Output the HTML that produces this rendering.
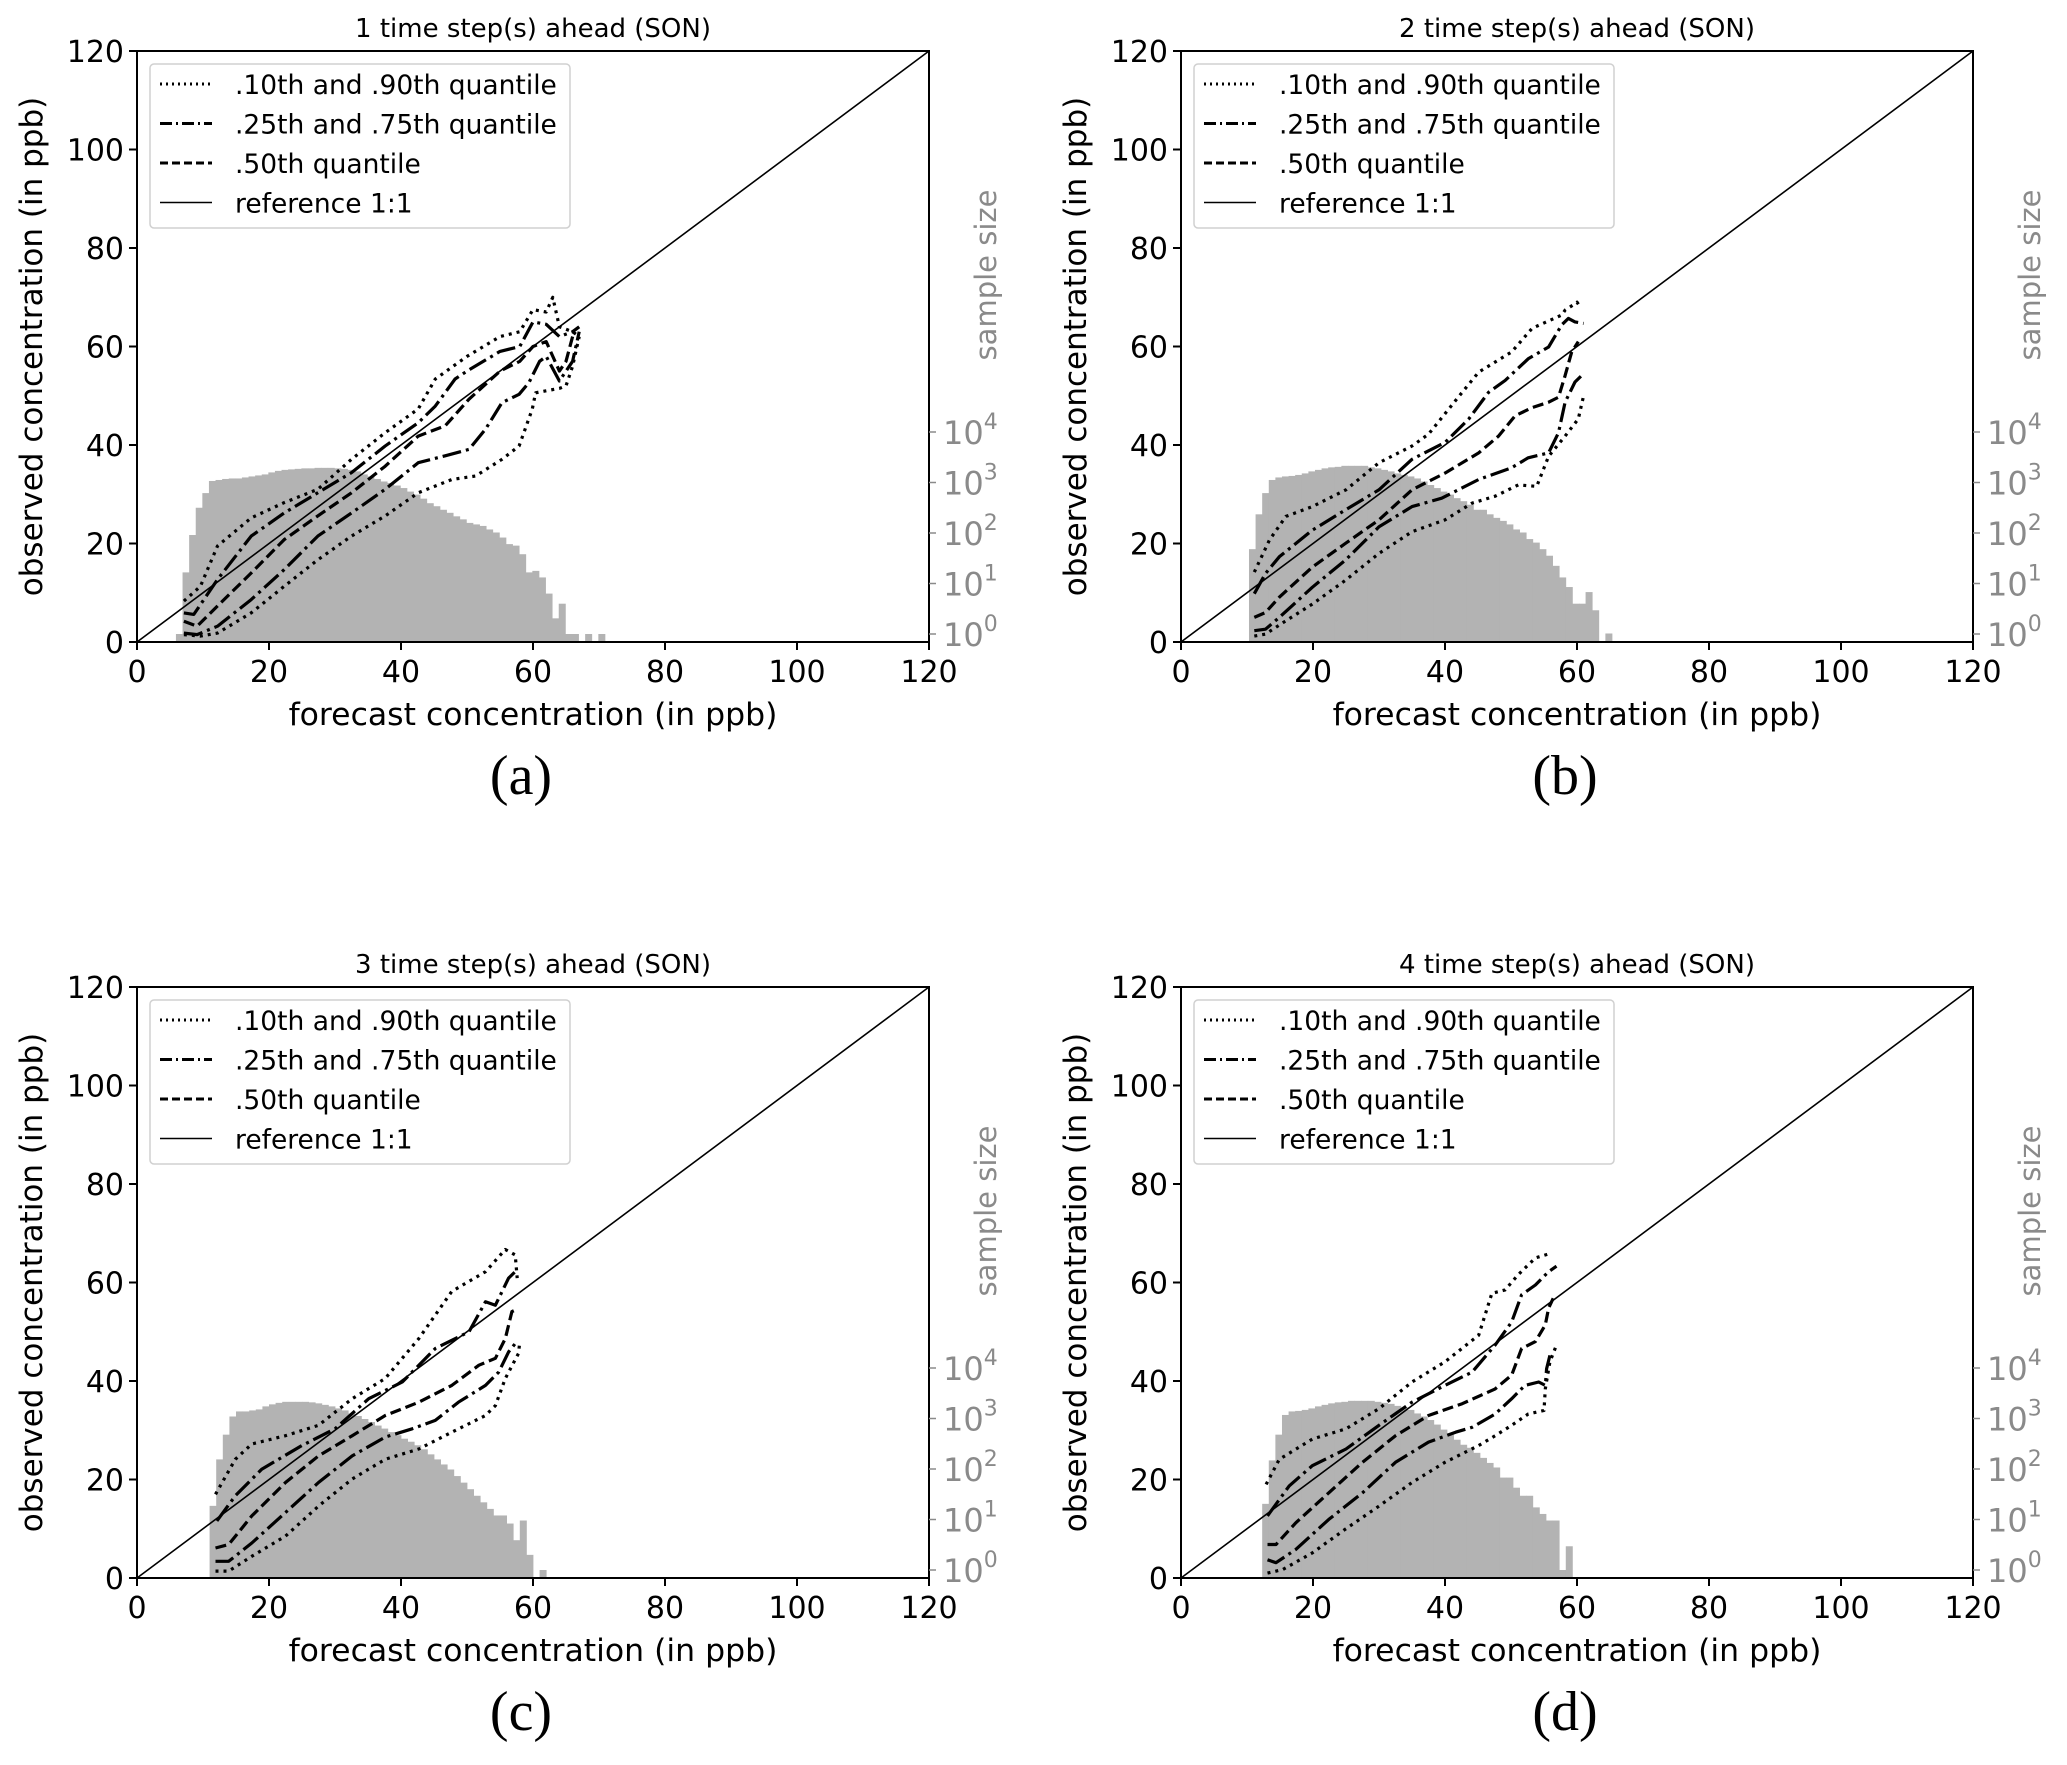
<!DOCTYPE html>
<html><head><meta charset="utf-8"><title>Quantile reliability plots</title>
<style>
html,body{margin:0;padding:0;background:#fff;}
svg{display:block;font-family:"DejaVu Sans","Liberation Sans",sans-serif;}
</style></head>
<body>
<svg id="fig" width="2067" height="1765" viewBox="0 0 2067 1765" xmlns="http://www.w3.org/2000/svg"></svg>
<script>
// ---------- data ----------
const panelTitles = ["1 time step(s) ahead (SON)","2 time step(s) ahead (SON)","3 time step(s) ahead (SON)","4 time step(s) ahead (SON)"];
const panelLetters = ["(a)","(b)","(c)","(d)"];
const xTicks = [0,20,40,60,80,100,120];
const yTicks = [0,20,40,60,80,100,120];
const logTicks = [0,1,2,3,4];
// histogram: first bin start (ppb) and log10(sample count) per 1-ppb bin (-1 = empty)
const histStart = [5.9, 10.3, 11.0, 12.3];
const histA = [0.0,1.22,1.96,2.50,2.79,3.03,3.05,3.07,3.08,3.08,3.10,3.12,3.14,3.16,3.20,3.23,3.25,3.26,3.27,3.28,3.28,3.29,3.29,3.29,3.28,3.27,3.25,3.22,3.16,3.12,3.07,3.02,2.99,2.94,2.89,2.82,2.76,2.68,2.59,2.53,2.46,2.40,2.33,2.27,2.20,2.17,2.14,2.07,2.01,1.91,1.78,1.75,1.58,1.22,1.25,1.12,0.80,0.31,0.60,0.0,0.0,-1,0.0,-1,0.0];
const histB = [1.68,2.37,2.79,3.05,3.10,3.12,3.13,3.15,3.18,3.22,3.25,3.28,3.30,3.31,3.33,3.33,3.33,3.33,3.30,3.28,3.25,3.22,3.18,3.15,3.12,3.08,3.02,2.95,2.89,2.82,2.76,2.69,2.63,2.56,2.46,2.46,2.37,2.30,2.24,2.17,2.07,2.01,1.88,1.81,1.68,1.55,1.35,1.12,0.93,0.60,0.60,0.83,0.47,-1,0.01];
const histC = [1.27,2.19,2.68,3.04,3.14,3.14,3.16,3.18,3.24,3.28,3.31,3.33,3.33,3.33,3.33,3.32,3.30,3.27,3.24,3.20,3.16,3.10,3.05,2.99,2.93,2.86,2.80,2.73,2.67,2.60,2.54,2.47,2.39,2.29,2.19,2.09,1.99,1.86,1.73,1.60,1.47,1.34,1.21,1.08,1.08,0.92,0.59,0.98,0.30,-1,0.0];
const histD = [1.31,2.17,2.68,3.07,3.14,3.15,3.17,3.20,3.24,3.27,3.30,3.32,3.33,3.35,3.35,3.35,3.35,3.33,3.31,3.29,3.25,3.22,3.17,3.10,3.04,2.97,2.88,2.78,2.68,2.58,2.48,2.42,2.32,2.22,2.12,2.03,1.83,1.83,1.63,1.47,1.47,1.24,1.11,0.98,0.98,0.0,0.47];
// quantile curves: x (forecast) and y (observed) per panel
const aQ10x=[7.1,9.6,12.2,17.3,22.3,27.4,32.5,37.6,42.6,47.7,51.3,55.3,57.9,59.9,60.4,62,64,65,66,67];
const aQ10y=[1.5,1.2,1.8,5.9,11.3,16.7,21.5,25.6,30.3,33,33.7,37.1,39.8,47.3,50.6,51,51.5,52,56,62];
const aQ25x=[7.1,9.1,12.2,17.3,22.3,27.4,32.5,37.6,42.6,46.7,50.3,52.8,55.3,57.9,59.4,61,62,64,66,67];
const aQ25y=[1.8,1.5,3.2,8.6,14.7,21.5,26.2,31,36.4,37.8,39.1,43.2,48.6,50.3,52.7,57,58,53,57,63];
const aQ50x=[7.1,9.1,12.2,17.3,22.3,27.4,32.5,37.6,42.6,46.7,50.3,55,58,60,62,63,64,65,66];
const aQ50y=[4.2,3.2,7.3,14,20.8,25.6,30.3,35.7,41.8,43.9,49.3,55,57,60,61,58,55,57,62];
const aQ75x=[7.1,8.6,12.2,17.3,22.3,27.4,32.5,37.6,42.6,45.2,48.2,50,55,58,60,62,64,66,67];
const aQ75y=[5.9,5.6,12.7,21.5,26.2,30.3,34.4,39.8,44.5,47.9,53.4,55,59,60,65,64.5,62,63,64];
const aQ90x=[7.1,9.6,12.2,17.3,22.3,27.4,32.5,37.6,42.6,45.2,50,55,58,60,62,63,64,66,67];
const aQ90y=[8.3,11.3,19.5,25.2,28.3,31,37.1,42.5,47.3,53.4,58,62,63,67.5,67,70,64,63,62];
const bQ10x=[11.1,12.8,15.9,19.9,24.9,30,35,40,44.1,47.6,51.1,53.9,55.7,58.2,60.2,61];
const bQ10y=[1.2,1.6,4.3,7.7,12.5,18,22.4,24.8,28.2,29.6,31.9,31.6,37.7,41.8,45.3,50];
const bQ25x=[11.1,12.8,14.9,19.9,24.9,30,35,39.5,45.1,50.1,52.6,55.7,57.2,58.2,59.7,61];
const bQ25y=[2.3,2.6,5,11.1,16.6,23.4,27.5,29.2,33,35.4,37.4,38.4,42.5,48.7,52.8,54.5];
const bQ50x=[11.1,12.8,14.9,19.9,24.9,30,35,40,45.1,48.1,50.6,53.2,55.7,57.2,58.2,59.2,60.2];
const bQ50y=[5,6,9.1,15.2,20,24.8,30.9,34.3,38.4,41.8,45.9,47.6,48.7,49.7,54.1,58.9,61];
const bQ75x=[11.1,12.8,14.9,19.9,24.9,30,35,40,43.6,46.6,49.1,52.6,55.7,57.7,58.7,59.7,61];
const bQ75y=[9.8,13.9,17.3,22.7,26.8,30.9,37.1,40.5,45.3,50.7,53.1,57.5,59.9,64.4,65.7,65,64.7];
const bQ90x=[11.1,13.4,15.9,19.9,25,30,35,37.5,42.6,45.1,50.1,53.2,57.7,58.2,59.5,60,60.5];
const bQ90y=[14.2,20.7,25.5,27.5,30.9,36.4,39.8,42.2,50.7,54.8,58.9,63.7,66.4,67.4,68.5,69,68];
const cQ10x=[11.9,13.9,17.4,22.5,27.5,32.6,37.6,42.7,47.7,52.8,54.3,55.8,57.8,58];
const cQ10y=[1.4,1.4,4.4,8.5,14.6,20.1,24.1,26.2,29.6,33,35,40.5,45.6,48];
const cQ25x=[11.9,13.9,17.4,22.5,27.5,32.6,37.6,41.7,45.2,48.7,52.8,54.8,56.3,57.3];
const cQ25y=[3.4,3.4,7.1,13.3,19.4,24.8,28.6,30.3,32,35.7,39.1,41.8,45.9,47.6];
const cQ50x=[11.9,13.9,17.4,22.5,27.5,32.6,37.6,42.7,47.7,51.8,54.3,55.8,56.8,57.3];
const cQ50y=[6.1,6.8,12.6,19.4,24.8,28.9,33,35.7,39.1,43.2,44.6,48.6,54.1,54.4];
const cQ75x=[12.1,14.9,18.9,25,30,35.1,40.2,45.2,50.3,52.8,54.3,56.3,57.3];
const cQ75y=[11.6,16.7,22.1,26.9,30.3,36.4,39.8,46.6,50,56.1,55.4,60.9,62.2];
const cQ90x=[11.9,14.9,17.4,22.5,27.5,32.6,37.6,42.7,47.7,52.8,55.8,57.3,57.6];
const cQ90y=[17,24.1,27.2,28.9,31,36.4,40.5,48.6,58.2,62.2,66.7,65.6,60.9];
const dQ10x=[13.1,15.4,19.9,24.9,30,35,40,45.1,47.6,50.1,52.6,55,55.2,55.9,56.9];
const dQ10y=[1,1.7,5.1,9.9,14.6,19.4,23.5,26.9,28.9,31,33.3,34,38.4,43.9,47.3];
const dQ25x=[13.1,14.4,17.4,22.4,27.5,32.5,37.5,41.6,44.1,47.6,50.1,52.1,54.2,55.2,55.4,55.9];
const dQ25y=[3.7,3.1,5.8,11.9,17.3,23.5,27.6,29.6,30.6,33.3,36.4,39.1,39.8,39.1,42.5,45.2];
const dQ50x=[13.1,14.4,17.4,22.4,27.5,32.5,37.5,42.6,47.6,50.1,51.6,53.7,55.2,55.7,56.4];
const dQ50y=[6.8,6.8,11.2,17.3,23.5,28.9,33,35.4,38.4,41.2,46.6,48,51.4,54.8,56.8];
const dQ75x=[13.1,16.4,19.9,25,30,35,40,44.1,47.6,50.1,51.6,53.7,55.7,56.9];
const dQ75y=[12.6,18.7,22.8,26.2,31,35.7,39.1,41.8,47.3,52,57.5,59.5,62.2,63.3];
const dQ90x=[12.9,14.9,19.9,25,30,35,40,45.1,47.1,49.1,51.1,53.7,56.2];
const dQ90y=[19,24.1,28.2,30.3,34.4,39.8,43.9,49.3,57.8,58.5,61.6,65,66];

const histograms=[histA,histB,histC,histD];
const quantX=[[aQ10x,aQ25x,aQ50x,aQ75x,aQ90x],[bQ10x,bQ25x,bQ50x,bQ75x,bQ90x],[cQ10x,cQ25x,cQ50x,cQ75x,cQ90x],[dQ10x,dQ25x,dQ50x,dQ75x,dQ90x]];
const quantY=[[aQ10y,aQ25y,aQ50y,aQ75y,aQ90y],[bQ10y,bQ25y,bQ50y,bQ75y,bQ90y],[cQ10y,cQ25y,cQ50y,cQ75y,cQ90y],[dQ10y,dQ25y,dQ50y,dQ75y,dQ90y]];
const quantNames=["q10","q25","q50","q75","q90"];

// ---------- drawing ----------
const NS="http://www.w3.org/2000/svg";
const svg=document.getElementById('fig');
function mk(tag,attrs,parent){const e=document.createElementNS(NS,tag);for(const k in attrs)e.setAttribute(k,attrs[k]);(parent||svg).appendChild(e);return e;}
const W=792,H=591;
const origins=[[137,51],[1181,51],[137,987],[1181,987]];
const DOT="3,5", DASHDOT="19,5,3,5", DASH="11,5";
const styles=[DOT,DASHDOT,DASH,DASHDOT,DOT];
const GRAY="#8a8a8a";

origins.forEach(([L,T],p)=>{
  const g=mk('g',{});
  
  
  const sx=v=>L+v/120*W, sy=v=>T+H-v/120*H;
  const B=T+H;
  const sLog=v=>B-8-50.5*v;
  const hg=mk('g',{},g);
  
  
  histograms[p].forEach((v,i)=>{
    if(v<0)return;
    const x0=sx(histStart[p]+i), x1=sx(histStart[p]+i+1), y=sLog(v);
    const r=mk('rect',{x:x0,y:y,width:x1-x0+0.4,height:B-y,fill:'#b3b3b3'},hg);
    
    
  });
  const ref=mk('line',{x1:sx(0),y1:sy(0),x2:sx(120),y2:sy(120),stroke:'#000','stroke-width':1.6},g);
  
  
  quantX[p].forEach((xs,k)=>{
    const ys=quantY[p][k];
    const d=xs.map((x,i)=>(i?'L':'M')+sx(x).toFixed(1)+' '+sy(ys[i]).toFixed(1)).join(' ');
    const pth=mk('path',{d:d,fill:'none',stroke:'#000','stroke-width':3.2,'stroke-dasharray':styles[k],'stroke-linejoin':'round'},g);
    
    
  });
  const fr=mk('rect',{x:L,y:T,width:W,height:H,fill:'none',stroke:'#000','stroke-width':2},g);
  
  
  xTicks.forEach(t=>{
    mk('line',{x1:sx(t),y1:B,x2:sx(t),y2:B+8,stroke:'#000','stroke-width':2},g);
    const tx=mk('text',{x:sx(t),y:B+40,'font-size':30,'text-anchor':'middle',fill:'#000'},g);
    tx.textContent=t;
    
    
  });
  yTicks.forEach(t=>{
    mk('line',{x1:L-8,y1:sy(t),x2:L,y2:sy(t),stroke:'#000','stroke-width':2},g);
    const tx=mk('text',{x:L-13,y:sy(t)+11,'font-size':30,'text-anchor':'end',fill:'#000'},g);
    tx.textContent=t;
    
    
  });
  logTicks.forEach(t=>{
    mk('line',{x1:L+W,y1:sLog(t),x2:L+W+7,y2:sLog(t),stroke:GRAY,'stroke-width':1.5},g);
    const tx=mk('text',{x:L+W+14,y:sLog(t)+12,'font-size':32,fill:GRAY},g);
    tx.textContent='10';
    const sup=mk('tspan',{'font-size':22,dy:-15},tx);
    sup.textContent=t;
    
    
  });
  const xl=mk('text',{x:L+W/2,y:B+83,'font-size':31.5,'text-anchor':'middle',fill:'#000'},g);
  xl.textContent='forecast concentration (in ppb)';
  
  
  const yl=mk('text',{transform:`translate(${L-95},${T+H/2}) rotate(-90)`,'font-size':31,'text-anchor':'middle',fill:'#000'},g);
  yl.textContent='observed concentration (in ppb)';
  
  
  const sl=mk('text',{transform:`translate(${L+W+67},${T+224}) rotate(-90)`,'font-size':29,'text-anchor':'middle',fill:GRAY},g);
  sl.textContent='sample size';
  
  
  const tt=mk('text',{x:L+W/2,y:T-14,'font-size':26,'text-anchor':'middle',fill:'#000'},g);
  tt.textContent=panelTitles[p];
  
  
  const lt=mk('text',{x:L+W/2-12,y:B+152,'font-size':56,'text-anchor':'middle',fill:'#000','font-family':'"Liberation Serif",serif'},g);
  lt.textContent=panelLetters[p];
  
  
  const lg=mk('g',{},g);
  
  
  mk('rect',{x:L+13,y:T+13,width:420,height:164,rx:4,fill:'#fff','fill-opacity':0.85,stroke:'#d0d0d0','stroke-width':1.5},lg);
  const labels=['.10th and .90th quantile','.25th and .75th quantile','.50th quantile','reference 1:1'];
  const ls=[DOT,DASHDOT,DASH,null];
  labels.forEach((s,i)=>{
    const yy=T+33+i*39.5;
    const ln=mk('line',{x1:L+23,y1:yy,x2:L+75,y2:yy,stroke:'#000','stroke-width':i==3?1.6:3},lg);
    if(ls[i])ln.setAttribute('stroke-dasharray',i==1?'12,4,2,4':(i==0?'2,4':'8,4'));
    
    
    const tx=mk('text',{x:L+98,y:yy+10,'font-size':26.5,fill:'#000'},lg);
    tx.textContent=s;
    
    
  });
});
</script>
</body></html>
